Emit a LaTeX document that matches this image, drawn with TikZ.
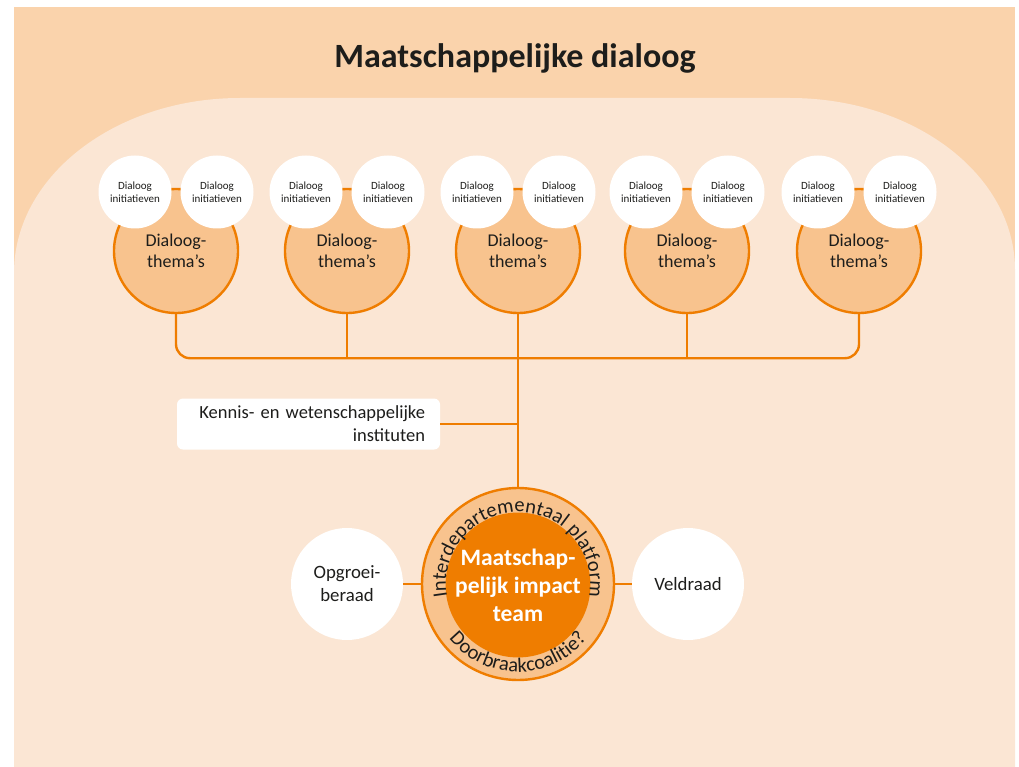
\documentclass[tikz,border=0pt]{standalone}
\usepackage{fontspec}
\setmainfont{Carlito}
\usetikzlibrary{decorations.text}
\definecolor{peachout}{HTML}{FAD3AC}
\definecolor{peachin}{HTML}{FBE6D4}
\definecolor{lineorange}{HTML}{EF7D00}
\definecolor{themefill}{HTML}{F8C38E}
\definecolor{ink}{HTML}{1D1D1B}
\begin{document}
\begin{tikzpicture}[x=1pt,y=1pt,
	conn/.style={draw=lineorange, line width=2.4pt},
	theme/.style={circle, draw=lineorange, line width=2.4pt, fill=themefill, minimum size=124pt, inner sep=0pt, align=center, text=ink, font=\fontsize{18}{21}\selectfont},
	initbox/.style={circle, fill=white, minimum size=73pt, inner sep=0pt, align=center, text=ink, font=\fontsize{11}{13}\selectfont},
	side/.style={circle, fill=white, minimum size=112pt, inner sep=0pt, align=center, text=ink, font=\fontsize{18.8}{23}\selectfont}]
	\useasboundingbox (0,0) rectangle (1019,-767);
	\fill[peachout] (14,-7) rectangle (1015,-767);
	\fill[peachin] (14,-767) -- (14,-273) arc[x radius=226, y radius=175, start angle=180, end angle=90] -- (790,-98) arc[x radius=225, y radius=172, start angle=90, end angle=0] -- (1015,-767) -- cycle;
	\node[text=ink, font=\fontsize{34}{40}\selectfont\bfseries] (title) at (515,-58) {Maatschappelijke dialoog};
	\foreach \x [count=\i] in {176,347,518,687,859} {
		\node[theme] (t\i) at (\x,-251) {Dialoog-\\thema’s};
		\node[initbox] (a\i) at (\x-41,-192) {Dialoog\\initiatieven};
		\node[initbox] (b\i) at (\x+41,-192) {Dialoog\\initiatieven};
	}
	\node[draw=lineorange, line width=2.4pt, circle, fill=themefill, minimum size=192pt, inner sep=0pt] (ring) at (518,-584) {};
	\node[circle, fill=lineorange, minimum size=134pt, inner sep=0pt, align=center, text=white, font=\fontsize{23.5}{28}\selectfont\bfseries] (core) at (518,-585) {Maatschap-\\pelijk impact\\team};
	\node[side] (opgroei) at (347,-584) {Opgroei-\\beraad};
	\node[side] (veld) at (688,-584) {Veldraad};
	\node[fill=white, rounded corners=6pt, minimum width=263pt, minimum height=51pt, text width=233pt, inner sep=0pt, align=right, text=ink, font=\fontsize{18.5}{23}\selectfont] (kennis) at (308.5,-424) {Kennis- en wetenschappelijke\\instituten};
	\draw[conn, rounded corners=14pt] (t1.south) -- ++(0,-44) -| (t5.south);
	\draw[conn] (t2.south) -- ++(0,-44);
	\draw[conn] (t4.south) -- ++(0,-44);
	\draw[conn] (t3.south) -- (ring.north);
	\draw[conn] (kennis.east) -- (kennis.east -| t3.south);
	\draw[conn] (opgroei.east) -- (ring.west);
	\draw[conn] (ring.east) -- (veld.west);
	\path[decorate, decoration={text along path, text align=center, text={|\color{ink}\fontsize{20.5}{20}\selectfont|Interdepartementaal platform}}] (ring.center) ++(188:72) arc[start angle=188, end angle=-8, radius=72];
	\path[decorate, decoration={text along path, text align=center, text={|\color{ink}\fontsize{20.5}{20}\selectfont|Doorbraakcoalitie?}}] (ring.center) ++(200:88) arc[start angle=200, end angle=340, radius=88];
\end{tikzpicture}
\end{document}
